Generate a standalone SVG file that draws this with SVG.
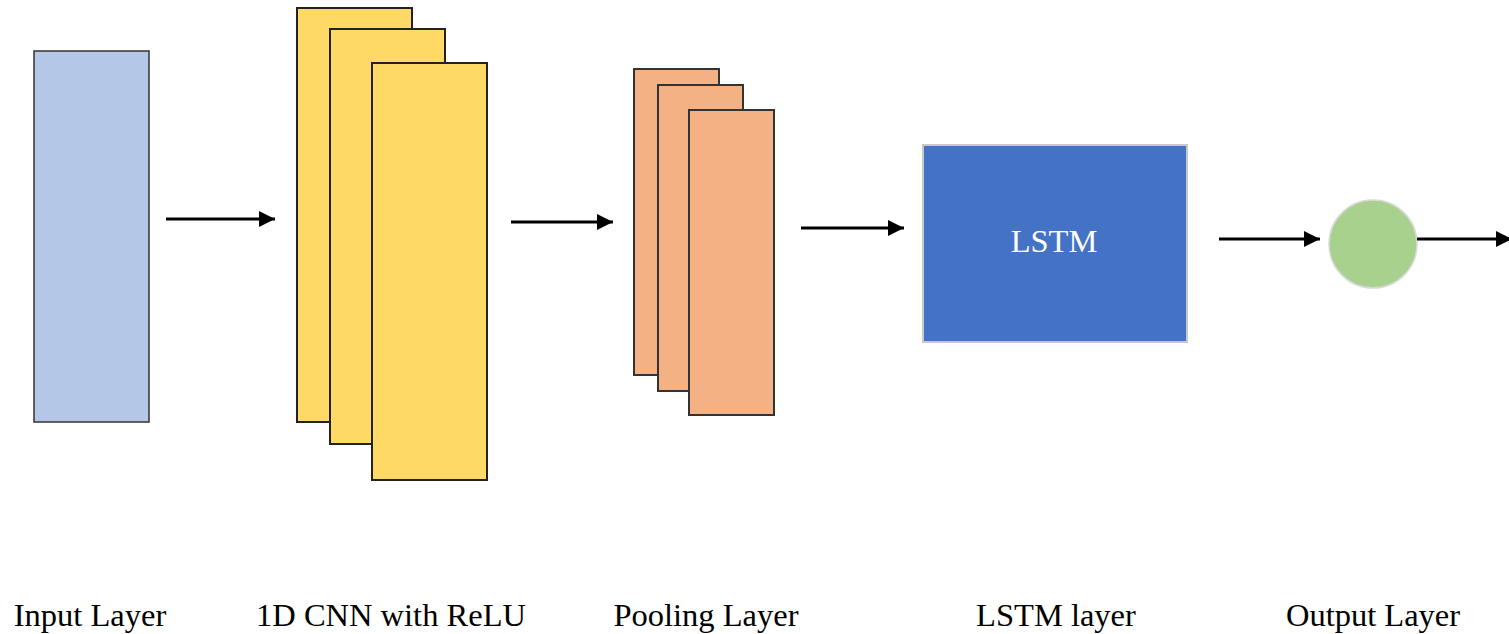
<svg xmlns="http://www.w3.org/2000/svg" width="1509" height="634" viewBox="0 0 1509 634">
<style>
.lbl{font-family:"Liberation Serif","Times New Roman",serif;font-size:32.5px;fill:#000;text-anchor:middle}
.cnn{fill:#ffd966;stroke:#222;stroke-width:2}
.pool{fill:#f4b183;stroke:#333;stroke-width:2}
.conn{stroke:#000;stroke-width:3;fill:none}
</style>
<defs>
<marker id="ah" viewBox="0 0 10 10" refX="10" refY="5" markerWidth="5.5" markerHeight="5.5" orient="auto" markerUnits="strokeWidth">
<path d="M0,0 L10,5 L0,10 z" fill="#000"/>
</marker>
</defs>
<rect width="1509" height="634" fill="#fff"/>
<g id="input">
<rect x="34" y="51" width="115" height="371" fill="#b4c7e7" stroke="#333" stroke-width="1.5"/>
<text class="lbl" x="90" y="626">Input Layer</text>
</g>
<g id="cnn">
<rect class="cnn" x="297" y="8" width="115" height="414"/>
<rect class="cnn" x="330" y="29" width="115" height="415"/>
<rect class="cnn" x="372" y="63" width="115" height="417"/>
<text class="lbl" x="391" y="626">1D CNN with ReLU</text>
</g>
<g id="pool">
<rect class="pool" x="634" y="69" width="85" height="306"/>
<rect class="pool" x="658" y="85" width="85" height="306"/>
<rect class="pool" x="689" y="110" width="85" height="305"/>
<text class="lbl" x="706" y="626">Pooling Layer</text>
</g>
<g id="lstm">
<rect x="923" y="145" width="264" height="197" fill="#4472c4" stroke="#c9c9c9" stroke-width="2"/>
<text x="1054" y="252" font-family="Liberation Serif, serif" font-size="32.5" fill="#fff" text-anchor="middle">LSTM</text>
<text class="lbl" x="1056" y="626">LSTM layer</text>
</g>
<g id="output">
<circle cx="1373" cy="244" r="44" fill="#a9d18e" stroke="#d9d9d9" stroke-width="1.5"/>
<text class="lbl" x="1373" y="626">Output Layer</text>
</g>
<g id="connectors">
<line class="conn" x1="166" y1="219" x2="275" y2="219" marker-end="url(#ah)"/>
<line class="conn" x1="511" y1="222" x2="613" y2="222" marker-end="url(#ah)"/>
<line class="conn" x1="801" y1="228" x2="904" y2="228" marker-end="url(#ah)"/>
<line class="conn" x1="1219" y1="239" x2="1320" y2="239" marker-end="url(#ah)"/>
<line class="conn" x1="1417" y1="239" x2="1512" y2="239" marker-end="url(#ah)"/>
</g>
</svg>
